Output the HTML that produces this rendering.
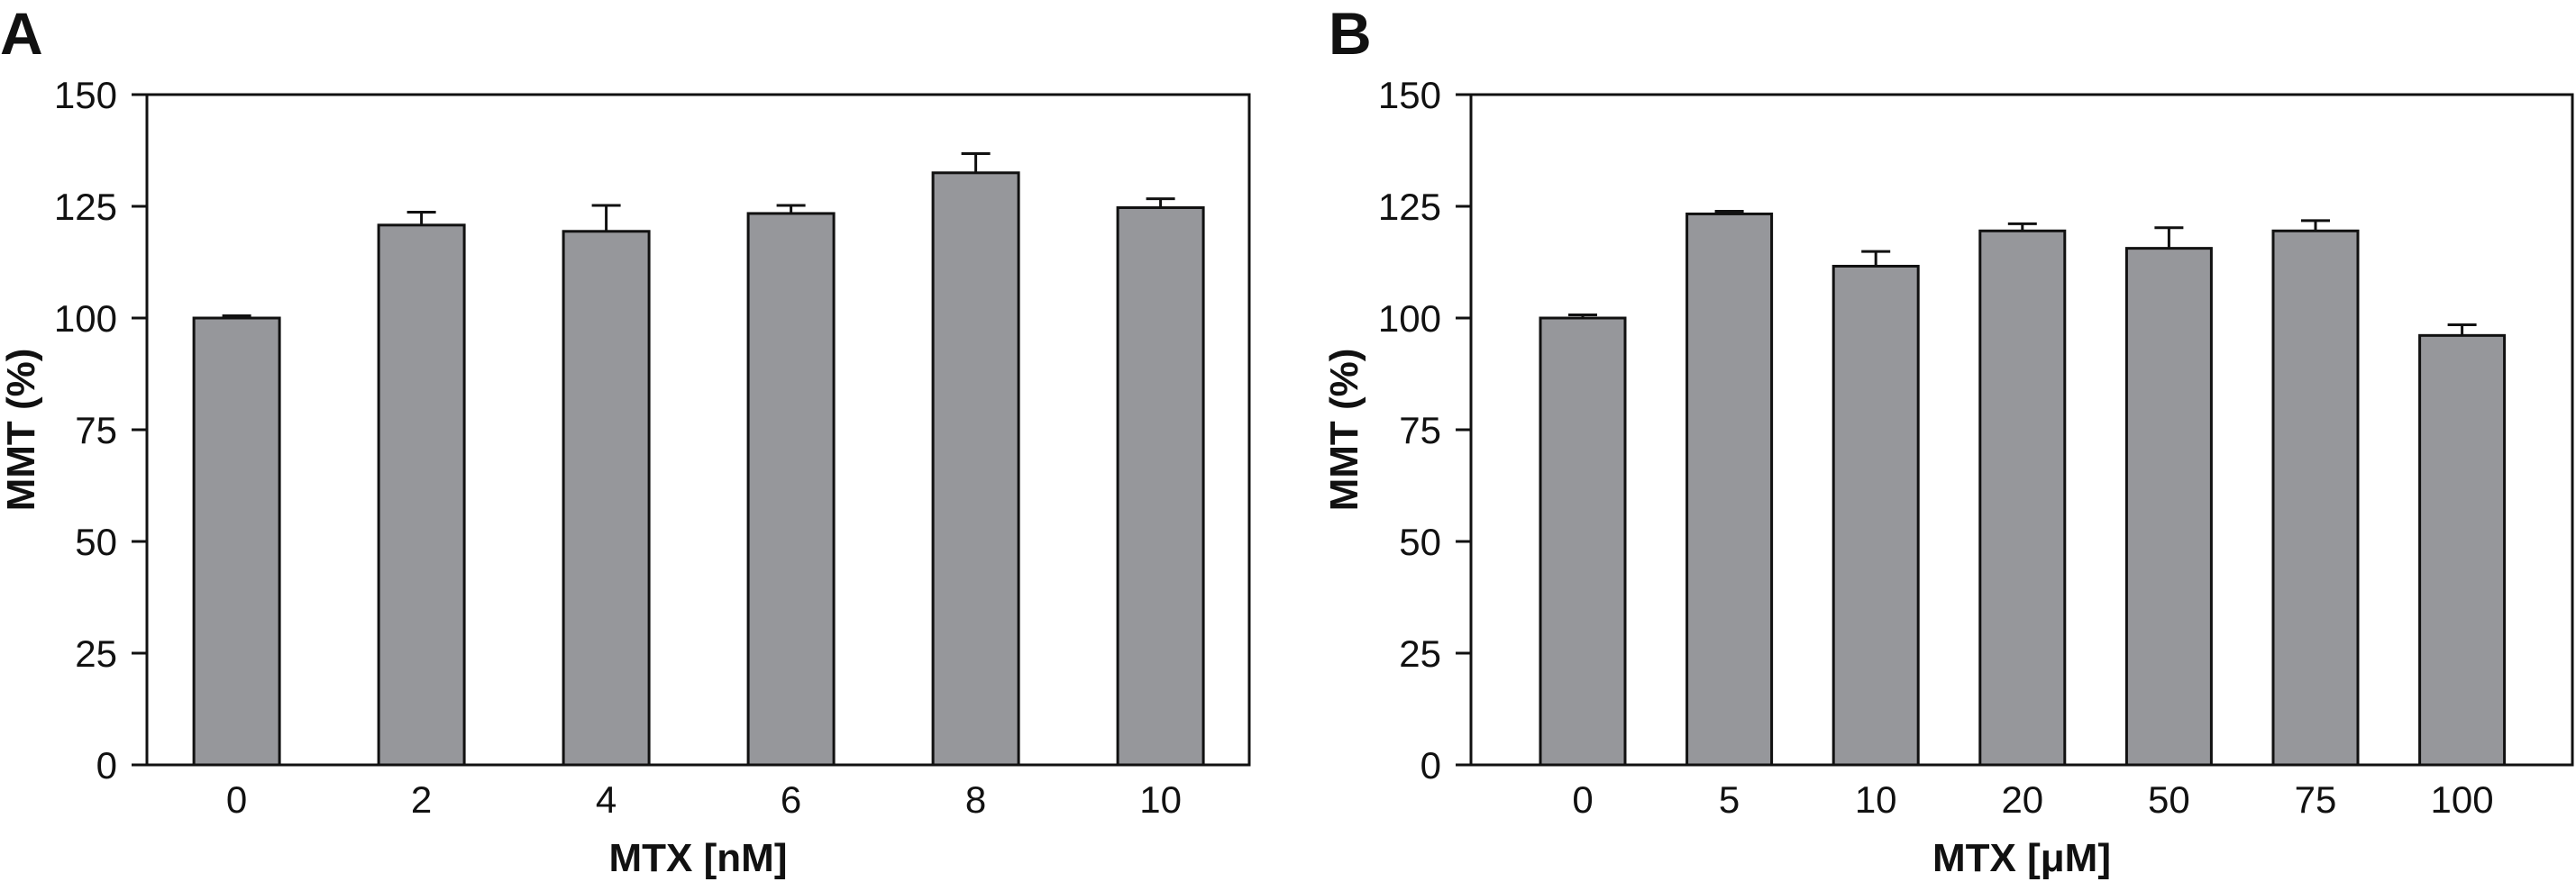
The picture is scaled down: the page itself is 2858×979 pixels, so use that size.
<!DOCTYPE html>
<html><head><meta charset="utf-8"><style>
html,body{margin:0;padding:0;background:#fff}
svg{display:block}
text{font-family:"Liberation Sans",sans-serif;fill:#111}
</style></head><body>
<svg id="chart" width="2858" height="979" viewBox="0 0 2858 979" xmlns="http://www.w3.org/2000/svg"></svg>
<script>
const catsA = ["0","2","4","6","8","10"];
const valsA = [100, 120.8, 119.4, 123.4, 132.5, 124.7];
const errA = [0.5, 2.9, 5.8, 1.8, 4.3, 2.0];
const catsB = ["0","5","10","20","50","75","100"];
const valsB = [100, 123.3, 111.6, 119.5, 115.6, 119.5, 96.1];
const errB = [0.7, 0.6, 3.3, 1.6, 4.6, 2.3, 2.4];
const yTicks = [0, 25, 50, 75, 100, 125, 150];

const svg = document.getElementById('chart');
const NS = 'http://www.w3.org/2000/svg';
function mk(tag, attrs, parent){
  const e = document.createElementNS(NS, tag);
  for (const k in attrs) e.setAttribute(k, attrs[k]);
  (parent||svg).appendChild(e);
  return e;
}
function panel(o){
  const g = mk('g', {});
  
  
  const y = v => o.y0 - (v / 150) * (o.y0 - o.yTop);
  const x = i => o.c0 + i * o.step;
  // panel letter
  const L = mk('text', {x:o.letterX, y:60, 'font-size':66, 'font-weight':'bold'}, g);
  L.textContent = o.letter;
  
  
  // bars
  o.vals.forEach((v, i) => {
    const bx = x(i) - o.bw/2;
    const r = mk('rect', {x:bx, y:y(v), width:o.bw, height:o.y0 - y(v), fill:'#96979b', stroke:'#111', 'stroke-width':3}, g);
    
    
    const eTop = y(v + o.err[i]);
    const el = mk('path', {d:`M${x(i)} ${y(v)} V${eTop} M${x(i)-16} ${eTop} H${x(i)+16}`, stroke:'#111', 'stroke-width':3, fill:'none'}, g);
    
    
    const t = mk('text', {x:x(i), y:o.y0 + 53, 'font-size':42, 'text-anchor':'middle'}, g);
    t.textContent = o.cats[i];
    
    
  });
  // frame
  const f = mk('rect', {x:o.axX, y:o.yTop, width:o.right - o.axX, height:o.y0 - o.yTop, fill:'none', stroke:'#111', 'stroke-width':3}, g);
  
  
  // y ticks
  yTicks.forEach(v => {
    const tl = mk('line', {x1:o.axX - 17, x2:o.axX, y1:y(v), y2:y(v), stroke:'#111', 'stroke-width':3}, g);
    
    
    const t = mk('text', {x:o.axX - 33, y:y(v) + 15, 'font-size':42, 'text-anchor':'end'}, g);
    t.textContent = v;
    
    
  });
  const yt = mk('text', {x:0, y:0, 'font-size':44, 'font-weight':'bold', 'text-anchor':'middle', transform:`translate(${o.ytX},${(o.y0+o.yTop)/2}) rotate(-90)`}, g);
  yt.textContent = 'MMT (%)';
  
  
  const xt = mk('text', {x:(o.axX + o.right)/2, y:967, 'font-size':44, 'font-weight':'bold', 'text-anchor':'middle'}, g);
  xt.textContent = o.xTitle;
  
  
}
panel({letter:'A', letterX:0, cats:catsA, vals:valsA, err:errA, axX:163, right:1386, yTop:105, y0:849, c0:262.6, step:205, bw:95, ytX:38, xTitle:'MTX [nM]'});
panel({letter:'B', letterX:1474, cats:catsB, vals:valsB, err:errB, axX:1632, right:2854, yTop:105, y0:849, c0:1756, step:162.6, bw:94, ytX:1506, xTitle:'MTX [μM]'});
</script>
</body></html>
